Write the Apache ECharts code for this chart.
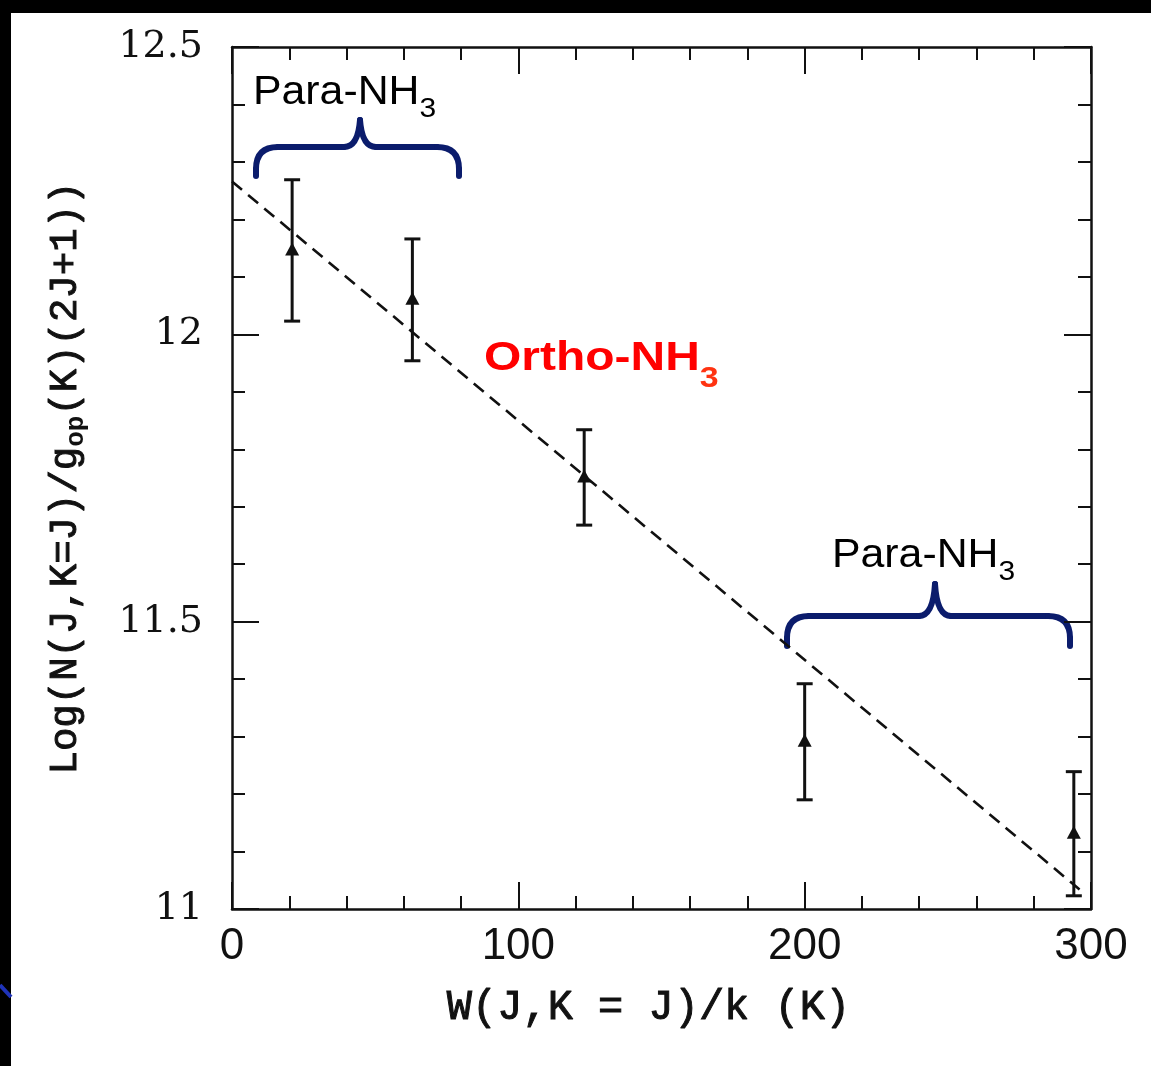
<!DOCTYPE html>
<html>
<head>
<meta charset="utf-8">
<script src="https://cdn.jsdelivr.net/npm/echarts@6.0.0/dist/echarts.min.js"></script>
<style>
  html, body { margin: 0; padding: 0; background: #ffffff; }
  #chart { width: 1151px; height: 1066px; }
</style>
</head>
<body>
<div id="chart"></div>
<script>
// Rotational level populations of NH3 (K = J ladder)
const levelEnergy = [21, 63, 123, 200, 294];          // W(J,K=J)/k  [K]
const logColumn   = [12.146, 12.060, 11.751, 11.291, 11.131];
const logError    = [0.123, 0.106, 0.083, 0.101, 0.108];

// Straight-line (rotation temperature) fit, drawn dashed
const fitEnergy = [0, 296];
const fitLog    = [12.266, 11.034];

// Axis tick values
const xTicks = [0, 100, 200, 300];
const yTicks = [11, 11.5, 12, 12.5];

const INK = '#111111';
const NAVY = '#0b1c6c';

const chart = echarts.init(document.getElementById('chart'), null, { renderer: 'canvas' });

const pointData = levelEnergy.map((x, i) => [x, logColumn[i], logError[i]]);
const fitData = fitEnergy.map((x, i) => [x, fitLog[i]]);

const frameAxis = (extra) => Object.assign({
  type: 'value',
  axisLine: { show: true, onZero: false, lineStyle: { color: INK, width: 2.5 } },
  axisTick: { show: true, inside: true, length: 27, lineStyle: { color: INK, width: 2 } },
  minorTick: { show: true, splitNumber: 5, length: 13, lineStyle: { color: INK, width: 2 } },
  splitLine: { show: false },
  minorSplitLine: { show: false }
}, extra);

const xCommon = { min: xTicks[0], max: xTicks[xTicks.length - 1], interval: xTicks[1] - xTicks[0] };
const yCommon = { min: yTicks[0], max: yTicks[yTicks.length - 1], interval: yTicks[1] - yTicks[0] };

// Typewriter-style titles: regular mono with a thin outline for a medium weight
const monoRich = {
  m: { fontFamily: 'Liberation Mono', fontSize: 39, lineHeight: 44, color: INK, textBorderColor: INK, textBorderWidth: 1 },
  s: { fontFamily: 'Liberation Mono', fontSize: 26, fontWeight: 'bold', lineHeight: 26, padding: [20, 0, 0, 0], color: INK }
};

// Curly bracket built from straight and quadratic segments
function bracket(xl, xr, xm, yEnd, yBar, yPeak) {
  const r = 22, m = 16;
  const st = { stroke: NAVY, lineWidth: 6, fill: null, lineCap: 'round' };
  const seg = (x1, y1, x2, y2) => ({ type: 'line', shape: { x1, y1, x2, y2 }, style: st });
  const quad = (x1, y1, cx, cy, x2, y2) => ({ type: 'bezierCurve', shape: { x1, y1, cpx1: cx, cpy1: cy, x2, y2 }, style: st });
  return {
    type: 'group', z: 5,
    children: [
      seg(xl, yEnd, xl, yBar + r),
      quad(xl, yBar + r, xl, yBar, xl + r, yBar),
      seg(xl + r, yBar, xm - m, yBar),
      quad(xm - m, yBar, xm - 2, yBar, xm, yPeak),
      quad(xm, yPeak, xm + 2, yBar, xm + m, yBar),
      seg(xm + m, yBar, xr - r, yBar),
      quad(xr - r, yBar, xr, yBar, xr, yBar + r),
      seg(xr, yBar + r, xr, yEnd)
    ]
  };
}

// Label with a subscript, stretched horizontally by sx
function subLabel(x, y, sx, main, sub, mainStyle, subStyle) {
  return {
    type: 'text', x, y, scaleX: sx, z: 6,
    style: {
      text: '{m|' + main + '}{s|' + sub + '}', align: 'left', verticalAlign: 'middle',
      rich: { m: mainStyle, s: subStyle }
    }
  };
}

const paraMain = { fontFamily: 'Liberation Sans', fontSize: 40, lineHeight: 48, fill: '#000000' };
const paraSub = { fontFamily: 'Liberation Sans', fontSize: 28, lineHeight: 28, padding: [32, 0, 0, 0], fill: '#000000' };
const orthoMain = { fontFamily: 'Liberation Sans', fontSize: 41, fontWeight: 'bold', lineHeight: 50, fill: '#ff0000' };
const orthoSub = { fontFamily: 'Liberation Sans', fontSize: 29, fontWeight: 'bold', lineHeight: 29, padding: [39, 0, 0, 0], fill: '#ff3311' };

const option = {
  backgroundColor: '#ffffff',
  animation: false,
  grid: { left: 232, right: 60, top: 47, bottom: 157 },
  xAxis: [
    frameAxis(Object.assign({
      position: 'bottom',
      name: 'W(J,K = J)/k (K)',
      nameLocation: 'middle',
      nameGap: 78,
      nameTextStyle: {
        fontFamily: 'Liberation Mono', fontSize: 42, color: INK,
        textBorderColor: INK, textBorderWidth: 1, padding: [0, 26, 0, 0]
      },
      axisLabel: { show: true, margin: 16, fontFamily: 'Liberation Sans', fontSize: 44, color: INK }
    }, xCommon)),
    frameAxis(Object.assign({ position: 'top', axisLabel: { show: false } }, xCommon))
  ],
  yAxis: [
    frameAxis(Object.assign({
      position: 'left',
      name: '{m|Log(N(J,K=J)/g}{s|op}{m|(K)(2J+1))}',
      nameLocation: 'middle',
      nameRotate: 90,
      nameGap: 144,
      nameTextStyle: { fontFamily: 'Liberation Mono', fontSize: 39, color: INK, rich: monoRich },
      axisLabel: { show: true, margin: 29, fontFamily: 'DejaVu Serif', fontSize: 38, color: INK }
    }, yCommon)),
    frameAxis(Object.assign({ position: 'right', axisLabel: { show: false } }, yCommon))
  ],
  series: [
    {
      name: 'fit',
      type: 'line',
      data: fitData,
      showSymbol: false,
      symbol: 'none',
      lineStyle: { color: INK, width: 2.6, type: [13, 8] },
      z: 2,
      silent: true
    },
    {
      name: 'levels',
      type: 'custom',
      data: pointData,
      clip: false,
      z: 3,
      renderItem: function (params, api) {
        const x = api.value(0), y = api.value(1), e = api.value(2);
        const c = api.coord([x, y]);
        const hi = api.coord([x, y + e]);
        const lo = api.coord([x, y - e]);
        const cap = 8;
        const stroke = { stroke: INK, lineWidth: 3 };
        return {
          type: 'group',
          children: [
            { type: 'line', shape: { x1: hi[0], y1: hi[1], x2: lo[0], y2: lo[1] }, style: stroke },
            { type: 'line', shape: { x1: hi[0] - cap, y1: hi[1], x2: hi[0] + cap, y2: hi[1] }, style: stroke },
            { type: 'line', shape: { x1: lo[0] - cap, y1: lo[1], x2: lo[0] + cap, y2: lo[1] }, style: stroke },
            { type: 'polygon', shape: { points: [[c[0], c[1] - 8], [c[0] - 7, c[1] + 5], [c[0] + 7, c[1] + 5]] }, style: { fill: INK } }
          ]
        };
      }
    }
  ],
  graphic: [
    // page edges
    { type: 'rect', shape: { x: 0, y: 0, width: 1151, height: 13 }, style: { fill: '#000000' }, z: 10 },
    { type: 'rect', shape: { x: 0, y: 0, width: 11, height: 1066 }, style: { fill: '#000000' }, z: 10 },
    { type: 'line', shape: { x1: 0, y1: 985, x2: 11, y2: 997 }, style: { stroke: '#1f33b8', lineWidth: 4 }, z: 11 },

    // group brackets
    bracket(256, 459, 360, 176, 147, 120),
    bracket(787, 1070, 935, 646, 616, 584),

    // group labels
    subLabel(253, 93, 1.07, 'Para-NH', '3', paraMain, paraSub),
    subLabel(832, 556, 1.07, 'Para-NH', '3', paraMain, paraSub),
    subLabel(484, 359, 1.17, 'Ortho-NH', '3', orthoMain, orthoSub)
  ]
};

chart.setOption(option);
</script>
</body>
</html>
